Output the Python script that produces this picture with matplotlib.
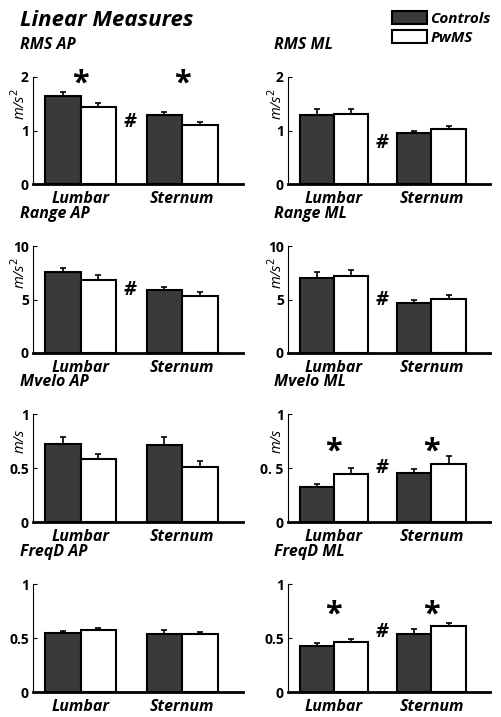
import matplotlib
matplotlib.use("Agg")
import matplotlib.pyplot as plt
import matplotlib.patches as mpatches

plt.rcParams['font.family'] = ['Open Sans', 'DejaVu Sans']

# data (Controls, PwMS) x (Lumbar, Sternum)
titles = ["RMS AP", "RMS ML", "Range AP", "Range ML",
          "Mvelo AP", "Mvelo ML", "FreqD AP", "FreqD ML"]
ctrl_mean = [[1.64, 1.29], [1.29, 0.95], [7.54, 5.86], [7.04, 4.70],
             [0.72, 0.716], [0.32, 0.45], [0.545, 0.54], [0.43, 0.54]]
ctrl_err = [[0.08, 0.06], [0.11, 0.05], [0.36, 0.31], [0.53, 0.28],
            [0.07, 0.074], [0.035, 0.04], [0.02, 0.03], [0.02, 0.04]]
pwms_mean = [[1.43, 1.10], [1.31, 1.02], [6.80, 5.30], [7.20, 5.05],
             [0.58, 0.51], [0.44, 0.54], [0.575, 0.535], [0.46, 0.61]]
pwms_err = [[0.08, 0.06], [0.10, 0.07], [0.50, 0.37], [0.53, 0.34],
            [0.05, 0.055], [0.06, 0.07], [0.015, 0.02], [0.03, 0.03]]
ylims = [2, 2, 10, 10, 1, 1, 1, 1]
yticks = [[0, 1, 2], [0, 1, 2], [0, 5, 10], [0, 5, 10],
          [0, 0.5, 1], [0, 0.5, 1], [0, 0.5, 1], [0, 0.5, 1]]
yticklabels = [["0", "1", "2"], ["0", "1", "2"], ["0", "5", "10"], ["0", "5", "10"],
               ["0", "0.5", "1"], ["0", "0. 5", "1"], ["0", "0.5", "1"], ["0", "0.5", "1"]]
ylabels = ["m/s$^2$", "m/s$^2$", "m/s$^2$", "m/s$^2$", "m/s", "m/s", "", ""]
categories = ["Lumbar", "Sternum"]
# significance markers: asterisk heights (None = none), hash height
star_y = [2.0, None, None, None, None, 0.72, None, 0.78]
hash_y = [1.15, 0.77, 5.9, 4.95, None, 0.5, None, 0.56]

W, H = 502, 717
fig = plt.figure(figsize=(W / 100, H / 100), dpi=100)

row_top = [77, 246, 414, 584]
row_bot = [184, 353, 522, 692]
col_left = [33, 288]
col_right = [243, 490]
title_x = [20, 274]
ylabel_x = [20, 277]
bw = 0.35

for i in range(8):
    r, c = i // 2, i % 2
    ax = fig.add_axes([col_left[c] / W, 1 - row_bot[r] / H,
                       (col_right[c] - col_left[c]) / W,
                       (row_bot[r] - row_top[r]) / H])
    x = [1, 2]
    xc = [v - bw / 2 for v in x]
    xp = [v + bw / 2 for v in x]
    ax.bar(xc, ctrl_mean[i], bw, color='#3a3a3a', edgecolor='black', linewidth=1.5,
           yerr=[[0, 0], ctrl_err[i]], error_kw=dict(ecolor='black', capsize=2, elinewidth=1.2, capthick=1.2))
    ax.bar(xp, pwms_mean[i], bw, color='white', edgecolor='black', linewidth=1.5,
           yerr=[[0, 0], pwms_err[i]], error_kw=dict(ecolor='black', capsize=2, elinewidth=1.2, capthick=1.2))
    ax.set_xlim(0.53, 2.6)
    ax.set_ylim(0, ylims[i])
    ax.set_yticks(yticks[i])
    ax.set_yticklabels(yticklabels[i], fontsize=10, fontweight='bold')
    ax.set_xticks(x)
    ax.set_xticklabels(categories, fontsize=11.5, fontweight='bold', style='italic')
    ax.tick_params(axis='x', length=0, pad=5)
    ax.tick_params(axis='y', direction='in', length=3, width=0.8, pad=3)
    for s in ['top', 'right']:
        ax.spines[s].set_visible(False)
    ax.spines['left'].set_linewidth(0.8)
    ax.spines['bottom'].set_linewidth(2)
    if ylabels[i]:
        ax.set_ylabel(ylabels[i], fontsize=10.5, style='italic')
        ax.yaxis.set_label_coords((ylabel_x[c] - col_left[c]) / (col_right[c] - col_left[c]), 0.75)
        ax.yaxis.label.set_va('center')
    fig.text(title_x[c] / W, 1 - (row_top[r] - 32) / H, titles[i], fontsize=11.5,
             fontweight='bold', style='italic', va='center', ha='left')
    if star_y[i] is not None:
        for xv in x:
            ax.annotate("*", (xv, star_y[i]), xytext=(0, -5), textcoords='offset points',
                        fontsize=22, fontweight='bold', ha='center', va='center')
    if hash_y[i] is not None:
        ax.text(1.49, hash_y[i], "#", fontsize=14, fontweight='bold', style='italic',
                ha='center', va='center')

fig.text(20 / W, 1 - 20 / H, "Linear Measures", fontsize=16, fontweight='bold',
         style='italic', va='center', ha='left')

handles = [mpatches.Patch(facecolor='#3a3a3a', edgecolor='black', linewidth=1.5),
           mpatches.Patch(facecolor='white', edgecolor='black', linewidth=1.5)]
fig.legend(handles, ["Controls", "PwMS"], loc='upper right',
           bbox_to_anchor=(500 / W, 1 - 2 / H), frameon=False,
           prop=dict(size=11, weight='bold', style='italic'),
           handlelength=2.3, handleheight=0.9, handletextpad=0.2,
           labelspacing=0.3, borderaxespad=0.2)

fig.savefig("out.png", dpi=100)
